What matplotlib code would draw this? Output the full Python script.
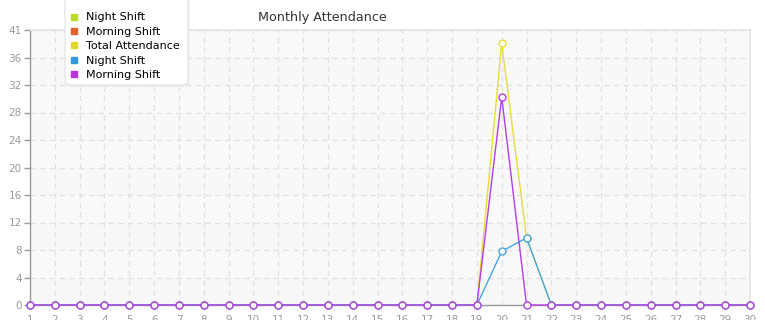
import numpy as np
import matplotlib
matplotlib.use("Agg")
import matplotlib.pyplot as plt
from matplotlib.lines import Line2D
from matplotlib.patches import FancyBboxPatch

days = list(range(1, 31))
total_attendance = [0, 0, 0, 0, 0, 0, 0, 0, 0, 0, 0, 0, 0, 0, 0,
                    0, 0, 0, 0, 39, 10, 0, 0, 0, 0, 0, 0, 0, 0, 0]
night_shift = [0, 0, 0, 0, 0, 0, 0, 0, 0, 0, 0, 0, 0, 0, 0,
               0, 0, 0, 0, 8, 10, 0, 0, 0, 0, 0, 0, 0, 0, 0]
morning_shift = [0, 0, 0, 0, 0, 0, 0, 0, 0, 0, 0, 0, 0, 0, 0,
                 0, 0, 0, 0, 31, 0, 0, 0, 0, 0, 0, 0, 0, 0, 0]
y_max = 41

legend_labels = ["Night Shift", "Morning Shift", "Total Attendance", "Night Shift", "Morning Shift"]
legend_colors = ["#b9dc2c", "#e0632e", "#e2d52c", "#3498e0", "#b534e0"]
line_colors = {"total": "#e6dc3a", "night": "#45a6e2", "morning": "#b43ee2"}

W, H = 765, 320
fig = plt.figure(figsize=(W / 100, H / 100), dpi=100)
ax = fig.add_axes([30 / W, 15 / H, 720 / W, 275 / H])

# striped background bands
plt.rcParams['hatch.linewidth'] = 0.5
ticks = np.linspace(0, y_max, 11)
for i in range(10):
    if i % 2 == 0:
        ax.axhspan(ticks[i], ticks[i + 1], facecolor="#f8f8f8", edgecolor="none", zorder=0)
    else:
        ax.axhspan(ticks[i], ticks[i + 1], facecolor="white", edgecolor="#eaeaea",
                   hatch="/////////", linewidth=0, zorder=0)

ax.set_xlim(1, 30)
ax.set_ylim(0, y_max)
ax.set_yticks(ticks)
ax.set_yticklabels([str(int(np.floor(t))) for t in ticks])
ax.set_xticks(days)
ax.grid(True, color="#e2e2e2", linestyle=(0, (4, 3)), linewidth=1, zorder=1)
ax.set_axisbelow(True)

for s in ["top", "right"]:
    ax.spines[s].set_color("#e4e4e4")
    ax.spines[s].set_linewidth(1.2)
for s in ["left", "bottom"]:
    ax.spines[s].set_color("#999999")
    ax.spines[s].set_linewidth(1)
ax.tick_params(colors="#999999", labelcolor="#9a9a9a", labelsize=7.5, length=4, width=1, pad=2)
ax.tick_params(axis="x", length=0, pad=7)

mk = dict(marker="o", markersize=5, markerfacecolor="white", markeredgewidth=1, linewidth=1, clip_on=False)
ax.plot(days, total_attendance, color=line_colors["total"], markeredgecolor=line_colors["total"], zorder=3, **mk)
ax.plot(days, night_shift, color=line_colors["night"], markeredgecolor=line_colors["night"], zorder=4, **mk)
ax.plot(days, morning_shift, color=line_colors["morning"], markeredgecolor=line_colors["morning"], zorder=5, **mk)

fig.text(322 / W, 1 - 17 / H, "Monthly Attendance", ha="center", va="center", fontsize=9.2, color="#333333")

# legend box with a light shadow
box2 = FancyBboxPatch((66.5 / W, (320 - 87) / H), 123 / W, 120 / H, boxstyle="round,pad=0,rounding_size=0.012",
                      transform=fig.transFigure, facecolor="#ececec", edgecolor="none", zorder=9)
fig.add_artist(box2)
box = FancyBboxPatch((65 / W, (320 - 85) / H), 123 / W, 120 / H, boxstyle="round,pad=0,rounding_size=0.012",
                     transform=fig.transFigure, facecolor="white", edgecolor="#e6e6e6", linewidth=1, zorder=10)
fig.add_artist(box)
handles = [Line2D([], [], marker="s", linestyle="none", markersize=4.5, color=c) for c in legend_colors]
leg = fig.legend(handles, legend_labels, loc="upper left", bbox_to_anchor=(70 / W, 1 - 12.5 / H),
                 frameon=False, fontsize=8, labelspacing=0.39, handlelength=0.8, handletextpad=0.6,
                 borderpad=0, borderaxespad=0)
leg.set_zorder(11)

fig.savefig("out.png", dpi=100)
